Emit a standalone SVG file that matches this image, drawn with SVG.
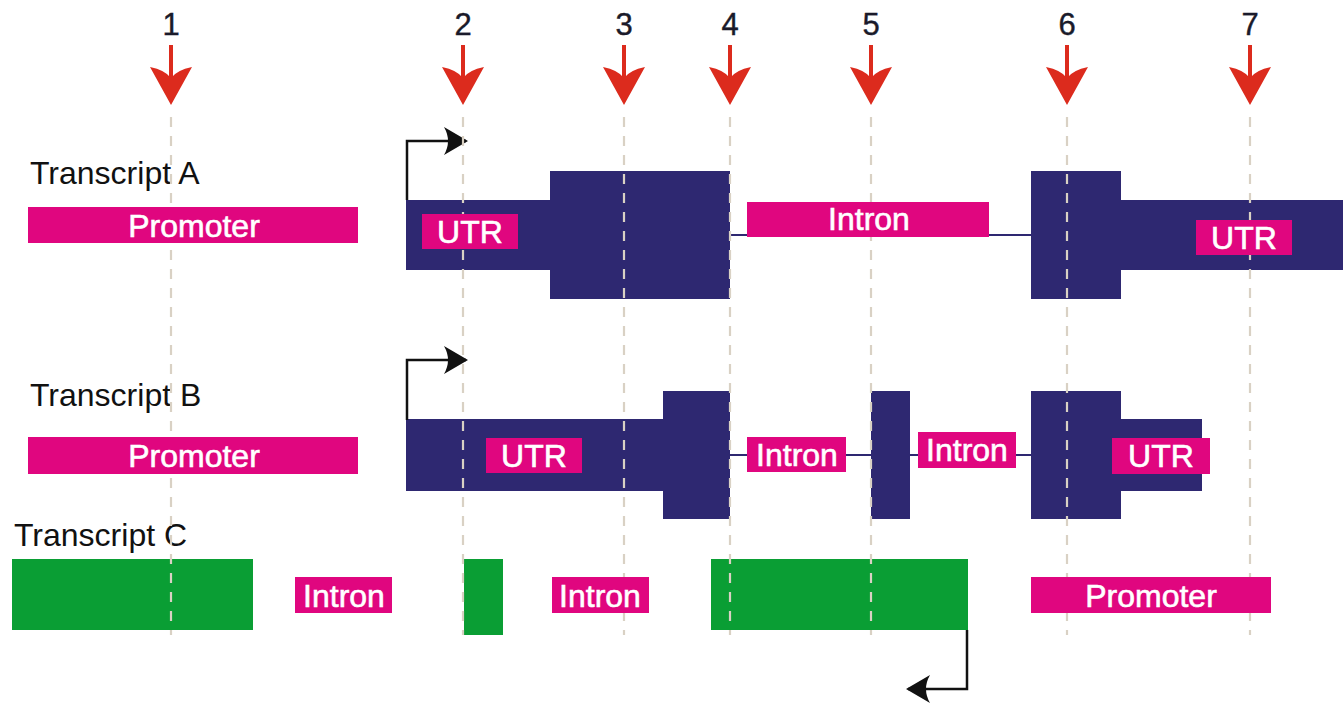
<svg xmlns="http://www.w3.org/2000/svg" width="1343" height="703" viewBox="0 0 1343 703">
<defs>
<style>
.num{font-family:"Liberation Sans",Arial,sans-serif;font-size:31px;fill:#1a1a2a;text-anchor:middle;stroke:#1a1a2a;stroke-width:0.4}
.title{font-family:"Liberation Sans",Arial,sans-serif;font-size:32px;fill:#111}
.lbl{font-family:"Liberation Sans",Arial,sans-serif;font-size:32px;fill:#fff;text-anchor:middle;stroke:#fff;stroke-width:0.6}
.navy{fill:#2e2871}
.pink{fill:#e0067f}
.green{fill:#0a9e34}
.guide{stroke:#d9d1c4;stroke-width:2.2;stroke-dasharray:10 9;fill:none}
.intronline{stroke:#2e2871;stroke-width:2;fill:none}
.tss{stroke:#111;stroke-width:2.5;fill:none}
.red{fill:#dc2b1d}
</style>
<marker id="ah" viewBox="0 0 24 28" refX="22" refY="14" markerWidth="24" markerHeight="28" markerUnits="userSpaceOnUse" orient="auto">
<path d="M0,0 L24,14 L0,28 Q8,14 0,0 Z" fill="#111"/>
</marker>
<symbol id="redarrow" overflow="visible">
<rect x="-2" y="45" width="4" height="35" class="red"/>
<path d="M-21,67 Q-6,70 0,78 Q6,70 21,67 L0,105 Z" class="red"/>
</symbol>
</defs>
<rect width="1343" height="703" fill="#fff"/>

<g id="markers">
<g id="m1"><text class="num" x="171" y="35">1</text><use href="#redarrow" x="171" y="0"/></g>
<g id="m2"><text class="num" x="463" y="35">2</text><use href="#redarrow" x="463" y="0"/></g>
<g id="m3"><text class="num" x="624" y="35">3</text><use href="#redarrow" x="624" y="0"/></g>
<g id="m4"><text class="num" x="730" y="35">4</text><use href="#redarrow" x="730" y="0"/></g>
<g id="m5"><text class="num" x="871" y="35">5</text><use href="#redarrow" x="871" y="0"/></g>
<g id="m6"><text class="num" x="1067" y="35">6</text><use href="#redarrow" x="1067" y="0"/></g>
<g id="m7"><text class="num" x="1250" y="35">7</text><use href="#redarrow" x="1250" y="0"/></g>
</g>

<g id="transcript-a-exons">
<text class="title" x="30" y="184">Transcript A</text>
<rect class="navy" x="406" y="200" width="145" height="70"/>
<rect class="navy" x="550" y="171" width="180" height="128"/>
<rect class="navy" x="1031" y="171" width="90" height="128"/>
<rect class="navy" x="1120" y="200" width="223" height="70"/>
</g>
<g id="transcript-b-exons">
<text class="title" x="30" y="406">Transcript B</text>
<rect class="navy" x="406" y="419" width="258" height="72"/>
<rect class="navy" x="663" y="391" width="67" height="128"/>
<rect class="navy" x="871" y="391" width="39" height="128"/>
<rect class="navy" x="1031" y="391" width="90" height="128"/>
<rect class="navy" x="1120" y="419" width="82" height="72"/>
</g>
<g id="transcript-c-exons">
<text class="title" x="14" y="546">Transcript C</text>
<rect class="green" x="12" y="559" width="241" height="71"/>
<rect class="green" x="464" y="559" width="39" height="76"/>
<rect class="green" x="711" y="559" width="257" height="71"/>
</g>

<g id="connectors">
<path class="intronline" d="M730,235 H1031"/>
<path class="intronline" d="M730,455 H1031"/>
<path class="tss" d="M407,200 V141 H466" marker-end="url(#ah)"/>
<path class="tss" d="M407,420 V360 H466" marker-end="url(#ah)"/>
<path class="tss" d="M967,630 V689 H908" marker-end="url(#ah)"/>
</g>

<g id="guides">
<path class="guide" d="M171,117 V635 M463,117 V635 M624,117 V635 M730,117 V635 M871,117 V635 M1067,117 V635 M1250,117 V635"/>
</g>

<g id="a-promoter"><rect class="pink" x="28" y="207" width="330" height="36"/><text class="lbl" x="194" y="237">Promoter</text></g>
<g id="a-utr1"><rect class="pink" x="422" y="214" width="96" height="35"/><text class="lbl" x="470" y="243">UTR</text></g>
<g id="a-intron"><rect class="pink" x="747" y="202" width="242" height="35"/><text class="lbl" x="869" y="230">Intron</text></g>
<g id="a-utr2"><rect class="pink" x="1196" y="220" width="96" height="35"/><text class="lbl" x="1244" y="249">UTR</text></g>

<g id="b-promoter"><rect class="pink" x="28" y="437" width="330" height="37"/><text class="lbl" x="194" y="467">Promoter</text></g>
<g id="b-utr1"><rect class="pink" x="486" y="438" width="96" height="35"/><text class="lbl" x="534" y="467">UTR</text></g>
<g id="b-intron1"><rect class="pink" x="747" y="437" width="99" height="35"/><text class="lbl" x="797" y="466">Intron</text></g>
<g id="b-intron2"><rect class="pink" x="918" y="432" width="98" height="36"/><text class="lbl" x="967" y="461">Intron</text></g>
<g id="b-utr2"><rect class="pink" x="1112" y="438" width="98" height="36"/><text class="lbl" x="1161" y="467">UTR</text></g>

<g id="c-intron1"><rect class="pink" x="295" y="577" width="97" height="36"/><text class="lbl" x="344" y="607">Intron</text></g>
<g id="c-intron2"><rect class="pink" x="552" y="577" width="97" height="36"/><text class="lbl" x="600" y="607">Intron</text></g>
<g id="c-promoter"><rect class="pink" x="1031" y="577" width="240" height="36"/><text class="lbl" x="1151" y="607">Promoter</text></g>
</svg>
